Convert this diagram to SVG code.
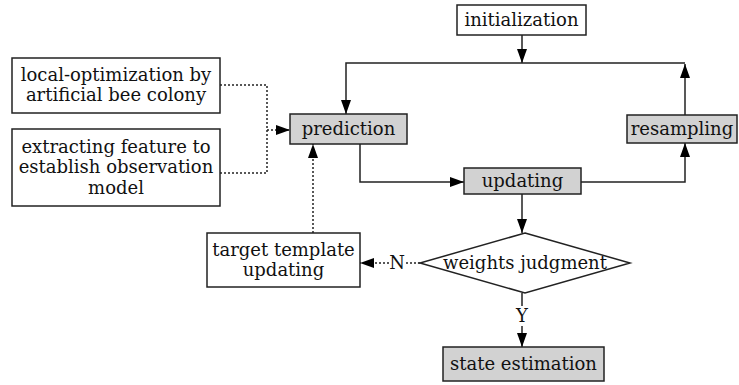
<svg xmlns="http://www.w3.org/2000/svg" width="739" height="385" viewBox="0 0 739 385">
<style>
.box{fill:#ffffff;stroke:#222;stroke-width:1.5}
.gray{fill:#d2d2d2;stroke:#222;stroke-width:1.5}
.t{font-family:"DejaVu Serif","Liberation Serif",serif;font-size:18px;fill:#111;text-anchor:middle}
.ln{fill:none;stroke:#222;stroke-width:1.5}
.dot{fill:none;stroke:#222;stroke-width:1.5;stroke-dasharray:2 2}
</style>
<defs>
<marker id="ah" markerWidth="14" markerHeight="10" refX="14" refY="5" orient="auto" markerUnits="userSpaceOnUse">
<path d="M0,0 L14,5 L0,10 z" fill="#000"/>
</marker>
</defs>
<rect width="739" height="385" fill="#fff"/>
<g id="connectors">
<path class="ln" d="M522,35 V63" marker-end="url(#ah)"/>
<path class="ln" d="M685,115 V64" marker-end="url(#ah)"/>
<path class="ln" d="M685,63 H346 V114" marker-end="url(#ah)"/>
<path class="ln" d="M360,144 V182 H464" marker-end="url(#ah)"/>
<path class="ln" d="M581,182 H685 V143" marker-end="url(#ah)"/>
<path class="ln" d="M522,194 V233" marker-end="url(#ah)"/>
<path class="dot" d="M420,263 H406"/>
<path class="dot" d="M389,263 H360" marker-end="url(#ah)"/>
<path class="dot" d="M313,233 V144" marker-end="url(#ah)"/>
<path class="dot" d="M220,85 H267 V173 H220"/>
<path class="dot" d="M267,130 H290" marker-end="url(#ah)"/>
<path class="ln" d="M522,293 V306"/>
<path class="ln" d="M522,326 V347" marker-end="url(#ah)"/>
<text class="t" x="397" y="269">N</text>
<text class="t" x="522" y="322">Y</text>
</g>
<g id="initialization">
<rect class="box" x="457" y="5" width="129" height="30"/>
<text class="t" x="521.5" y="26">initialization</text>
</g>
<g id="local-optimization">
<rect class="box" x="12" y="58" width="208" height="55"/>
<text class="t" x="116" y="80.5">local-optimization by</text>
<text class="t" x="116" y="100.5">artificial bee colony</text>
</g>
<g id="extracting-feature">
<rect class="box" x="12" y="129" width="208" height="77"/>
<text class="t" x="116" y="152.5">extracting feature to</text>
<text class="t" x="116" y="173">establish observation</text>
<text class="t" x="116" y="193.5">model</text>
</g>
<g id="prediction">
<rect class="gray" x="290" y="114" width="117" height="30"/>
<text class="t" x="348.5" y="135">prediction</text>
</g>
<g id="resampling">
<rect class="gray" x="627" y="115" width="110" height="28"/>
<text class="t" x="682" y="135">resampling</text>
</g>
<g id="updating">
<rect class="gray" x="464" y="168" width="117" height="26"/>
<text class="t" x="522.5" y="187">updating</text>
</g>
<g id="weights-judgment">
<polygon class="box" points="525,233 630,263 525,293 420,263"/>
<text class="t" x="525" y="269">weights judgment</text>
</g>
<g id="target-template-updating">
<rect class="box" x="207" y="233" width="153" height="54"/>
<text class="t" x="283.5" y="256">target template</text>
<text class="t" x="283.5" y="276">updating</text>
</g>
<g id="state-estimation">
<rect class="gray" x="443" y="347" width="161" height="34"/>
<text class="t" x="523.5" y="370">state estimation</text>
</g>
</svg>
